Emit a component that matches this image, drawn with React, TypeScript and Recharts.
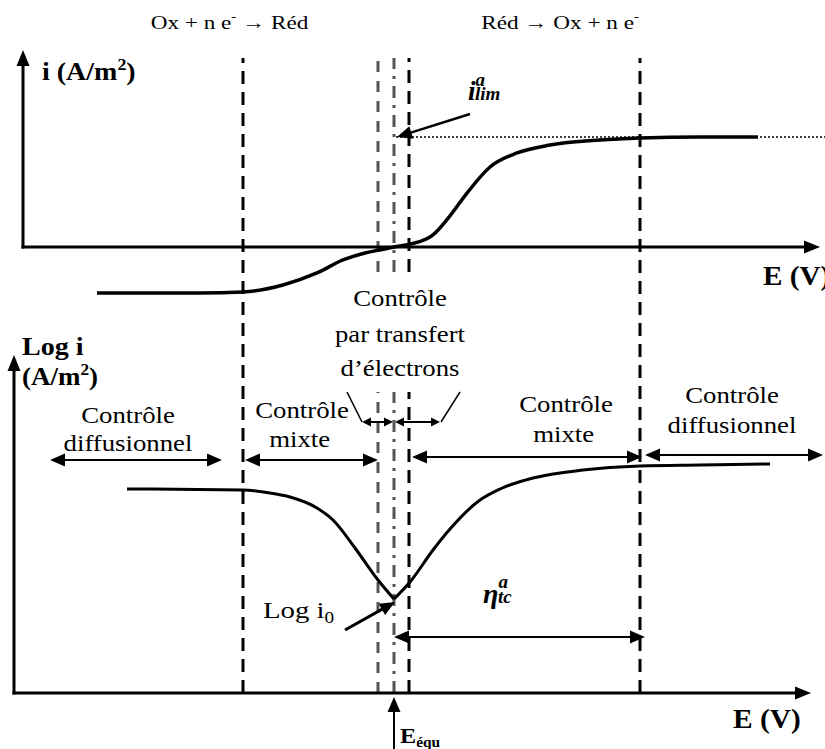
import React from 'react';
import { ComposedChart, Line, XAxis, YAxis, ReferenceLine, ReferenceDot } from 'recharts';

const WIDTH = 825;
const HEIGHT = 749;
const SERIF = '"Liberation Serif", "Times New Roman", Times, serif';

// Potential in arbitrary units, E_équ = 0
const E_DOMAIN: [number, number] = [-1.97, 2.155];
// Current density, normalised to the anodic limiting current
const I_DOMAIN: [number, number] = [-4.5636, 2.2455];
// Log of current density (decades)
const LOG_DOMAIN: [number, number] = [-7.4, 11.325];

const E_EQU = 0;
const I_LIM = 1;
const LOG_I0 = -3.65;

// i = f(E)
const iCurveE = [-1.485, -0.97, -0.755, -0.555, -0.385, -0.255, -0.145, -0.08, 0, 0.08, 0.195, 0.27, 0.365, 0.48, 0.615, 0.78, 1.03, 1.23, 1.53, 1.82];
const iCurveI = [-0.418, -0.418, -0.409, -0.345, -0.236, -0.118, -0.055, -0.03, 0, 0.025, 0.11, 0.26, 0.49, 0.727, 0.855, 0.927, 0.973, 0.991, 1.0, 1.0];

// log|i| = f(E): cathodic and anodic branches meeting at (E_équ, log i0)
const cathodicE = [-1.335, -0.755, -0.62, -0.52, -0.385, -0.305, -0.195, -0.08, E_EQU];
const cathodicLog = [-0.9, -0.925, -1.0, -1.1, -1.375, -1.675, -2.375, -3.175, LOG_I0];
const anodicE = [E_EQU, 0.08, 0.195, 0.28, 0.43, 0.53, 0.695, 0.945, 1.23, 1.53, 1.88];
const anodicLog = [LOG_I0, -3.225, -2.425, -1.9, -1.175, -0.9, -0.625, -0.425, -0.325, -0.3, -0.275];

// Boundaries between control regimes
const diffusionLimitCath = -0.755;
const transferLimitCath = -0.08;
const transferLimitAnod = 0.075;
const diffusionLimitAnod = 1.23;

const iData = iCurveE.map((E, k) => ({ E, i: iCurveI[k] }));
const cathData = cathodicE.map((E, k) => ({ E, log: cathodicLog[k] }));
const anodData = anodicE.map((E, k) => ({ E, log: anodicLog[k] }));

// vertical extents of the guide lines (log-axis units)
const GUIDE_TOP = 9.875;
const GUIDE_BOTTOM = -6;
const GAP_TOP = 4.525;
const GAP_BOTTOM = 1.525;

type ArrowOpts = { start?: boolean; end?: boolean; len?: number; half?: number; width?: number; cap?: 'butt' | 'square' };

const arrowShape = ({ start = false, end = true, len = 14, half = 6, width = 2, cap = 'butt' }: ArrowOpts) =>
  (p: any) => {
    const x1 = Number(p.x1), y1 = Number(p.y1), x2 = Number(p.x2), y2 = Number(p.y2);
    const d = Math.hypot(x2 - x1, y2 - y1) || 1;
    const ux = (x2 - x1) / d;
    const uy = (y2 - y1) / d;
    const head = (tx: number, ty: number, dx: number, dy: number) => {
      const bx = tx - dx * len;
      const by = ty - dy * len;
      return `${tx},${ty} ${bx - dy * half},${by + dx * half} ${bx + dy * half},${by - dx * half}`;
    };
    const sx = start ? x1 + ux * len * 0.8 : x1;
    const sy = start ? y1 + uy * len * 0.8 : y1;
    const ex = end ? x2 - ux * len * 0.8 : x2;
    const ey = end ? y2 - uy * len * 0.8 : y2;
    return (
      <g>
        <line x1={sx} y1={sy} x2={ex} y2={ey} stroke="#000" strokeWidth={width} strokeLinecap={cap} />
        {end && <polygon points={head(x2, y2, ux, uy)} fill="#000" />}
        {start && <polygon points={head(x1, y1, -ux, -uy)} fill="#000" />}
      </g>
    );
  };

// place a text node at a data point, optionally stretched horizontally
const at = (node: React.ReactNode, sx = 1) => (p: any) => (
  <g transform={`translate(${p.cx},${p.cy}) scale(${sx},1)`}>{node}</g>
);

const txt = { fontFamily: SERIF, fill: '#000' } as const;

function seg(key: string, from: [number, number], to: [number, number], axis: string, opts: ArrowOpts) {
  return (
    <ReferenceLine
      key={key}
      yAxisId={axis}
      ifOverflow="visible"
      segment={[{ x: from[0], y: from[1] }, { x: to[0], y: to[1] }]}
      shape={arrowShape(opts)}
    />
  );
}

function label(key: string, E: number, v: number, axis: string, node: React.ReactNode, sx = 1) {
  return <ReferenceDot key={key} x={E} y={v} yAxisId={axis} r={0} ifOverflow="visible" shape={at(node, sx)} />;
}

function guide(key: string, E: number, y1: number, y2: number, stroke: string, dash: string) {
  return (
    <ReferenceLine
      key={key}
      yAxisId="bot"
      ifOverflow="visible"
      segment={[{ x: E, y: y1 }, { x: E, y: y2 }]}
      stroke={stroke}
      strokeWidth={3}
      strokeDasharray={dash}
    />
  );
}

const BLACK_DASH = '13 8';
const GRAY_DASH = '11 9';
const DASH_DOT = '12 7 3 7';
const SX = 1.19;

export default function App() {
  return (
    <div style={{ position: 'absolute', left: 0, top: 0, width: WIDTH, height: HEIGHT, background: '#fff' }}>
      <ComposedChart width={WIDTH} height={HEIGHT} margin={{ top: 0, right: 0, bottom: 0, left: 0 }}>
        <XAxis dataKey="E" type="number" domain={E_DOMAIN} hide allowDataOverflow />
        <YAxis yAxisId="top" type="number" domain={I_DOMAIN} hide allowDataOverflow />
        <YAxis yAxisId="bot" type="number" domain={LOG_DOMAIN} hide allowDataOverflow />

        {/* regime boundaries */}
        {guide('g1', diffusionLimitCath, GUIDE_BOTTOM, GUIDE_TOP, '#000', BLACK_DASH)}
        {guide('g5', diffusionLimitAnod, GUIDE_BOTTOM, GUIDE_TOP, '#000', BLACK_DASH)}
        {guide('g2a', transferLimitCath, GAP_TOP, GUIDE_TOP, '#555', GRAY_DASH)}
        {guide('g2b', transferLimitCath, GUIDE_BOTTOM, GAP_BOTTOM, '#555', GRAY_DASH)}
        {guide('g3a', E_EQU, GAP_TOP, GUIDE_TOP, '#555', DASH_DOT)}
        {guide('g3b', E_EQU, GUIDE_BOTTOM, GAP_BOTTOM, '#555', DASH_DOT)}
        {guide('g4a', transferLimitAnod, GAP_TOP, GUIDE_TOP, '#000', BLACK_DASH)}
        {guide('g4b', transferLimitAnod, GUIDE_BOTTOM, GAP_BOTTOM, '#000', BLACK_DASH)}

        {/* limiting current */}
        <ReferenceLine
          yAxisId="top"
          ifOverflow="visible"
          segment={[{ x: 0.01, y: I_LIM }, { x: 2.155, y: I_LIM }]}
          stroke="#000"
          strokeWidth={1.5}
          strokeDasharray="2 2"
        />

        {/* axes */}
        {seg('ay1', [-1.855, 0], [-1.855, 1.79], 'top', { len: 16, half: 6.5, width: 3, cap: 'square' })}
        {seg('ax1', [-1.855, 0], [2.13, 0], 'top', { len: 16, half: 6.5, width: 3, cap: 'square' })}
        {seg('ay2', [-1.9, -6], [-1.9, 2.45], 'bot', { len: 16, half: 6.5, width: 3, cap: 'square' })}
        {seg('ax2', [-1.9, -6], [2.085, -6], 'bot', { len: 16, half: 6.5, width: 3, cap: 'square' })}

        <Line yAxisId="top" data={iData} dataKey="i" type="monotone" stroke="#000" strokeWidth={3.5} dot={false} activeDot={false} isAnimationActive={false} />
        <Line yAxisId="bot" data={cathData} dataKey="log" type="monotone" stroke="#000" strokeWidth={3} dot={false} activeDot={false} isAnimationActive={false} />
        <Line yAxisId="bot" data={anodData} dataKey="log" type="monotone" stroke="#000" strokeWidth={3} dot={false} activeDot={false} isAnimationActive={false} />

        {/* region arrows */}
        {seg('r1', [-1.72, -0.175], [-0.86, -0.175], 'bot', { start: true, len: 15, half: 6.5 })}
        {seg('r2', [-0.745, -0.175], [-0.08, -0.175], 'bot', { start: true, len: 15, half: 6.5 })}
        {seg('r3', [-0.16, 0.775], [-0.005, 0.775], 'bot', { start: true, len: 9, half: 4.5 })}
        {seg('r4', [0.005, 0.775], [0.23, 0.775], 'bot', { start: true, len: 9, half: 4.5 })}
        {seg('s1', [-0.235, 1.525], [-0.16, 0.775], 'bot', { end: false, width: 1.5 })}
        {seg('s2', [0.33, 1.525], [0.235, 0.775], 'bot', { end: false, width: 1.5 })}
        {seg('r5', [0.09, -0.1], [1.24, -0.1], 'bot', { start: true, len: 15, half: 6.5 })}
        {seg('r6', [1.255, -0.05], [2.145, -0.05], 'bot', { start: true, len: 15, half: 6.5 })}
        {seg('eta', [E_EQU, -4.6], [1.255, -4.6], 'bot', { start: true, len: 15, half: 6.5 })}
        {seg('i0', [-0.245, -4.425], [0.005, -3.725], 'bot', { len: 15, half: 6.5, width: 3 })}
        {seg('eq', [E_EQU, -7.4], [E_EQU, -6.1], 'bot', { len: 15, half: 6.5, width: 2 })}
        {seg('ilim', [0.38, 1.209], [0.015, I_LIM], 'top', { len: 15, half: 6.5, width: 2.5 })}

        {/* text */}
        {label('t1', -0.8225, 1.982, 'top',
          <text {...txt} x={0} y={0} textAnchor="middle" fontSize={19}>
            Ox + n e<tspan fontSize={12} dy={-8}>-</tspan><tspan dy={8}> → Réd</tspan>
          </text>, 1.22)}
        {label('t2', 0.83, 1.982, 'top',
          <text {...txt} x={0} y={0} textAnchor="middle" fontSize={19}>
            Réd → Ox + n e<tspan fontSize={12} dy={-8}>-</tspan>
          </text>, 1.22)}
        {label('t3', -1.76, 1.518, 'top',
          <text {...txt} x={0} y={0} fontSize={25} fontWeight="bold">
            i (A/m<tspan fontSize={16} dy={-10}>2</tspan><tspan dy={10}>)</tspan>
          </text>, 1.12)}
        {label('t4', 1.845, -0.345, 'top',
          <text {...txt} x={0} y={0} fontSize={27} fontWeight="bold">E (V)</text>, 1.08)}
        {label('t5', 0.37, 1.336, 'top',
          <text {...txt} x={0} y={0} fontSize={27} fontWeight="bold" fontStyle="italic">
            i<tspan fontSize={19} dy={-14}>a</tspan><tspan fontSize={19} dx={-10} dy={14}>lim</tspan>
          </text>)}

        {label('b1', 0.03, 3.675, 'bot',
          <g>
            <text {...txt} x={0} y={0} textAnchor="middle" fontSize={22.5}>Contrôle</text>
            <text {...txt} x={0} y={36} textAnchor="middle" fontSize={22.5}>par transfert</text>
            <text {...txt} x={0} y={70} textAnchor="middle" fontSize={22.5}>d’électrons</text>
          </g>, SX)}
        {label('b2', -1.86, 2.45, 'bot',
          <g>
            <text {...txt} x={0} y={0} fontSize={26} fontWeight="bold">Log i</text>
            <text {...txt} x={0} y={30} fontSize={25} fontWeight="bold">
              (A/m<tspan fontSize={16} dy={-10}>2</tspan><tspan dy={10}>)</tspan>
            </text>
          </g>, 1.08)}
        {label('b3', -1.33, 0.75, 'bot',
          <g>
            <text {...txt} x={0} y={0} textAnchor="middle" fontSize={22.5}>Contrôle</text>
            <text {...txt} x={0} y={28} textAnchor="middle" fontSize={22.5}>diffusionnel</text>
          </g>, SX)}
        {label('b4', -0.46, 0.875, 'bot',
          <g>
            <text {...txt} x={0} y={0} textAnchor="middle" fontSize={22.5}>Contrôle</text>
            <text {...txt} x={-2} y={29} textAnchor="middle" fontSize={22.5}>mixte</text>
          </g>, SX)}
        {label('b5', 0.86, 1.025, 'bot',
          <g>
            <text {...txt} x={0} y={0} textAnchor="middle" fontSize={22.5}>Contrôle</text>
            <text {...txt} x={-2} y={30} textAnchor="middle" fontSize={22.5}>mixte</text>
          </g>, SX)}
        {label('b6', 1.69, 1.25, 'bot',
          <g>
            <text {...txt} x={0} y={0} textAnchor="middle" fontSize={22.5}>Contrôle</text>
            <text {...txt} x={0} y={30} textAnchor="middle" fontSize={22.5}>diffusionnel</text>
          </g>, SX)}
        {label('b7', -0.655, -4.125, 'bot',
          <text {...txt} x={0} y={0} fontSize={24}>
            Log i<tspan fontSize={16} dy={5}>0</tspan>
          </text>, 1.2)}
        {label('b8', 0.445, -3.75, 'bot',
          <text {...txt} x={0} y={0} fontSize={28} fontWeight="bold" fontStyle="italic">
            η<tspan fontSize={19} dy={-15}>a</tspan><tspan fontSize={19} dx={-10} dy={15}>tc</tspan>
          </text>)}
        {label('b9', 1.695, -6.875, 'bot',
          <text {...txt} x={0} y={0} fontSize={28} fontWeight="bold">E (V)</text>, 1.05)}
        {label('b10', 0.03, -7.25, 'bot',
          <text {...txt} x={0} y={0} fontSize={22} fontWeight="bold">
            E<tspan fontSize={14} dy={4}>équ</tspan>
          </text>, 1.1)}
      </ComposedChart>
    </div>
  );
}
